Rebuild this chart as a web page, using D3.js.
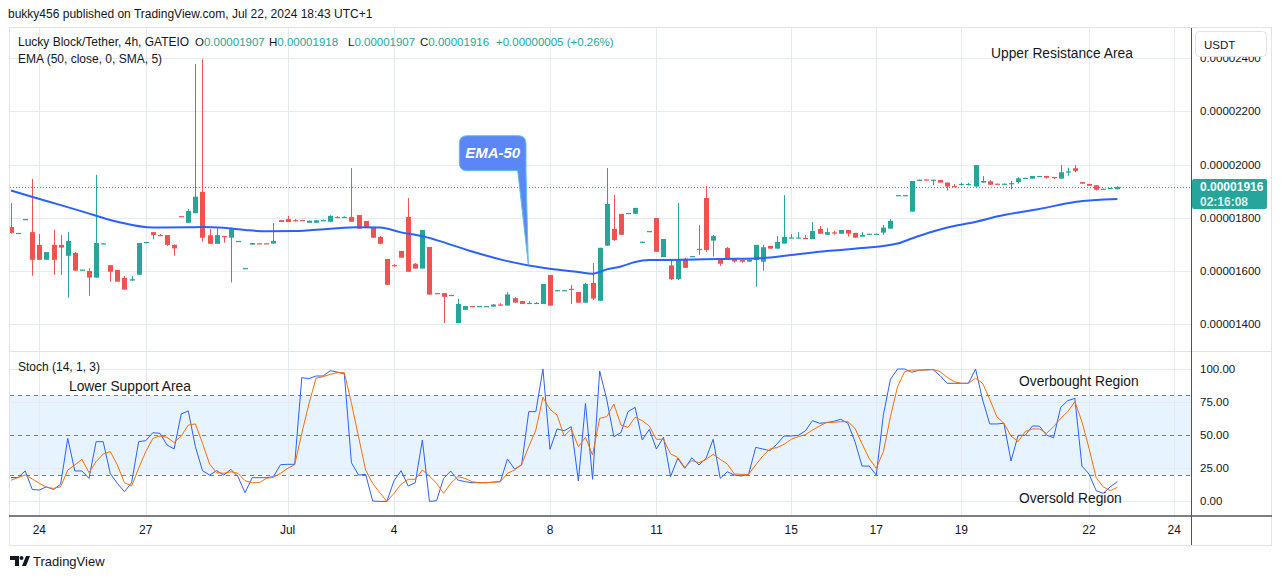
<!DOCTYPE html>
<html><head><meta charset="utf-8">
<script src="https://cdn.jsdelivr.net/npm/d3@7"></script>
<style>
html,body{margin:0;padding:0;background:#fff;}
svg{display:block;font-family:"Liberation Sans",Arial,sans-serif;}
</style></head><body>
<svg id="chart" width="1281" height="579"></svg>
<script>
// ---- DATA (prices in units of 1e-8 USDT) ----
const barOpen  = [1765,1741,1793,1746,1698,1642,1698,1698,1657,1668,1603,1600,1575,1702,1622,1604,1574,1564,1586,1707,1746,1735,1735,1698,1806,1781,1817,1897,1734,1702,1731,1725,1711,1609,1699,1704,1704,1703,1791,1795,1791,1791,1781,1781,1789,1785,1803,1800,1803,1810,1788,1765,1728,1645,1622,1675,1803,1627,1609,1690,1517,1517,1508,1404,1454,1468,1466,1466,1466,1474,1470,1498,1487,1476,1476,1476,1585,1526,1526,1533,1521,1481,1555,1488,1695,1758,1814,1816,1815,1708,1748,1799,1652,1621,1570,1646,1654,1683,1874,1714,1644,1686,1646,1642,1635,1641,1635,1694,1684,1703,1724,1724,1724,1720,1758,1736,1745,1740,1754,1743,1729,1738,1738,1744,1759,1883,1883,1823,1939,1944,1941,1942,1932,1919,1925,1925,1917,1932,1937,1928,1926,1928,1934,1947,1947,1955,1957,1953,1947,1972,1986,1934,1927,1922,1909,1908,1907];
const barHigh  = [1855,1743,1795,1946,1739,1671,1754,1735,1746,1671,1605,1611,1961,1704,1622,1604,1581,1581,1705,1709,1746,1739,1735,1700,1806,1833,2378,2395,1758,1760,1731,1763,1713,1611,1705,1704,1704,1780,1791,1807,1795,1791,1789,1791,1793,1809,1806,1805,1987,1810,1788,1765,1731,1645,1626,1675,1874,1630,1754,1690,1517,1517,1510,1495,1468,1468,1468,1468,1476,1479,1520,1502,1487,1487,1483,1551,1585,1528,1528,1547,1521,1555,1630,1687,1987,1885,1814,1818,1837,1710,1750,1799,1720,1641,1855,1650,1656,1773,1919,1735,1645,1690,1646,1642,1642,1698,1698,1694,1731,1885,1739,1746,1735,1784,1769,1761,1751,1754,1754,1743,1746,1740,1740,1773,1795,1885,1885,1938,1943,1944,1943,1942,1932,1927,1931,1931,1998,1957,1941,1928,1928,1938,1952,1950,1957,1957,1957,1953,1998,1988,1998,1934,1927,1922,1909,1912,1918];
const barLow   = [1740,1741,1793,1582,1642,1642,1585,1585,1500,1601,1603,1507,1575,1702,1560,1560,1530,1564,1586,1707,1719,1733,1694,1657,1804,1781,1817,1710,1702,1702,1706,1557,1711,1609,1699,1702,1702,1703,1784,1784,1786,1789,1781,1781,1787,1785,1800,1800,1785,1759,1764,1725,1700,1548,1616,1650,1597,1609,1609,1511,1515,1404,1508,1404,1454,1466,1466,1466,1466,1470,1470,1481,1476,1476,1476,1476,1470,1526,1526,1476,1481,1481,1491,1488,1695,1713,1736,1816,1815,1708,1748,1672,1652,1566,1566,1612,1654,1660,1672,1654,1619,1644,1632,1631,1635,1541,1601,1684,1684,1703,1722,1722,1722,1720,1740,1736,1736,1740,1729,1725,1729,1738,1738,1736,1759,1883,1883,1823,1939,1941,1922,1932,1902,1915,1921,1921,1917,1932,1924,1926,1926,1907,1928,1947,1947,1955,1947,1946,1947,1958,1971,1928,1920,1902,1905,1908,1907];
const barClose = [1743,1743,1795,1642,1642,1671,1642,1688,1713,1601,1605,1575,1705,1704,1597,1560,1530,1569,1705,1709,1735,1733,1698,1685,1804,1825,1879,1725,1702,1735,1729,1757,1713,1611,1705,1702,1702,1713,1784,1784,1789,1789,1789,1790,1791,1807,1800,1803,1785,1759,1764,1725,1702,1548,1620,1650,1597,1609,1754,1511,1515,1503,1510,1476,1468,1466,1468,1468,1474,1470,1512,1481,1476,1480,1480,1551,1470,1528,1528,1531,1481,1551,1496,1687,1852,1716,1736,1818,1837,1710,1750,1672,1720,1569,1644,1612,1656,1681,1679,1731,1627,1644,1636,1635,1642,1698,1689,1684,1709,1728,1726,1726,1722,1750,1740,1746,1743,1754,1740,1725,1735,1740,1740,1763,1788,1885,1885,1938,1943,1941,1943,1932,1917,1915,1927,1927,1998,1938,1924,1926,1928,1930,1948,1950,1957,1957,1950,1949,1971,1974,1976,1928,1920,1905,1905,1912,1916];

const emaIndex = [0,5,10,15,20,25,27,30,33,36,40,45,49,52,55,58,60,65,70,75,80,82,84,86,88,90,95,100,105,110,115,120,125,127,130,133,135,140,145,150,156];
const emaValue = [1902,1863,1824,1785,1763,1764,1765,1762,1754,1749,1750,1759,1764,1763,1745,1731,1716,1673,1637,1612,1596,1590,1606,1617,1634,1641,1642,1645,1647,1660,1675,1686,1703,1722,1748,1769,1779,1810,1833,1859,1870];

const stochK = [18,18,23,9,8.6,11,9,13,47.6,23,23,17.4,45.1,45.1,21,13.6,7.3,14.1,45.1,45.9,51.9,51.4,42.6,39.6,66,68.3,41.3,23.2,19.9,23.2,19.9,24.2,18.7,6.6,17.9,17.9,17.9,18.7,27.7,28,28,93.5,92.7,94.7,94.7,98.7,97.7,96.2,29.2,19.9,20.4,0.3,0,0,15.6,23.2,11.6,14.1,46.4,0,0.5,17.4,22.9,16.2,14.9,14.1,14.1,14.1,14.6,14.9,32,24.5,27.5,67.8,67.8,100,39.3,54.7,53.4,56.4,15.4,74,16.7,98.5,77,48.9,51.9,67.8,71,46.4,54.4,39.6,48.4,18.7,32.5,25,33,27.5,32.5,46.9,17.4,22.4,19.9,19.2,20.4,40.8,39.6,38.3,43.4,49.4,49.4,49.9,53.2,61,59,59.5,60.5,62,59,45.1,26.7,26.7,19.9,65.2,92.2,100,100,97.5,99,99.5,99.5,95,89.2,89.2,89.2,89.2,100,76.6,58.5,58.5,59,30.5,49.9,49.9,56.9,56.9,50.1,48.1,71,76.1,77.8,26.7,20.7,8.1,6.1,11.1,14.9];
const stochD = [16,18,19.9,17,13.6,10.6,9.8,11.1,23.7,27.5,31.8,21.7,30,35.8,37.6,27.5,14.1,11.6,25,37.6,47.6,49.4,48.4,44.4,49.4,57.7,58.5,43.9,28.2,21.7,21.2,22.4,21.2,15.6,14.1,14.1,17.4,18.2,21.2,25,27.7,51.4,73.6,93,94.2,96,97.2,97.2,74.1,48.9,23.7,13.6,6.6,0,6.1,12.9,16.7,16.7,23.7,19.2,13.6,6.1,13.6,18.7,17.4,14.9,14.1,14.1,14.4,14.9,21.2,23.7,28,41.3,53.9,78.6,69.5,65.2,49.4,54.7,41.3,48.4,35,62.7,64,73.6,57.7,55.9,63.5,61,56.9,46.9,46.9,35.8,33.3,25.7,30.8,29.2,31.8,35.5,31.8,28.2,20.7,20.4,20.4,27.5,34.3,39.6,40.6,43.1,46.9,48.9,50.4,53.9,56.9,59.7,59.7,60.2,60.2,55.2,43.4,32.5,25,37.6,64,86.7,98,99.2,99.2,99.2,99.7,98,93.7,90.4,89.2,89.2,93,89.2,77.1,64,59,49.4,45.1,52.7,54.7,54.7,51.4,56.4,62.7,67.8,75.3,60.2,40.1,18,11,8.1,10.6];

const priceTicks = [1400,1600,1800,2000,2200,2400];
const stochTicks = [0,25,50,75,100];
const stochBands = [20,50,80];
const timeTickIndex = [4,19,39,54,76,91,110,122,134,152,164];
const timeTickLabel = ["24","27","Jul","4","8","11","15","17","19","22","24"];
const lastPrice = 1916;
const lastChange = 5;
const lastChangePct = "+0.26%";

// ---- LAYOUT ----
const L=10, R=1191, mainTop=28, mainBot=351, stTop=352, stBot=516;
const UP="#26a69a", DOWN="#ef5350", GRID="#e6ebf1", TXT="#131722", AXIS="#50535e";

const svg=d3.select("#chart");
const x=d3.scaleLinear().domain([0,156]).range([11,1117.4]);
const y=d3.scaleLinear().domain([1400,2000]).range([324.2,164.5]);
const ys=d3.scaleLinear().domain([0,100]).range([501.4,369]);
const fmtP=v=>(v*1e-8).toFixed(8);

const defs=svg.append("defs");
defs.append("clipPath").attr("id","cm").append("rect").attr("x",L).attr("y",mainTop).attr("width",R-L).attr("height",mainBot-mainTop);
defs.append("clipPath").attr("id","cs").append("rect").attr("x",L).attr("y",stTop).attr("width",R-L).attr("height",stBot-stTop);

// header
svg.append("text").attr("x",8).attr("y",18).attr("font-size",12).attr("fill",TXT)
  .text("bukky456 published on TradingView.com, Jul 22, 2024 18:43 UTC+1");

// frame
svg.append("rect").attr("x",9.5).attr("y",27.5).attr("width",1262).attr("height",518).attr("fill","none").attr("stroke","#e0e3eb");

// grids main
const gm=svg.append("g").attr("clip-path","url(#cm)");
gm.selectAll("line.h").data(priceTicks).join("line")
  .attr("x1",L).attr("x2",R).attr("y1",d=>Math.round(y(d))+0.5).attr("y2",d=>Math.round(y(d))+0.5).attr("stroke",GRID);
gm.selectAll("line.v").data(timeTickIndex).join("line")
  .attr("x1",d=>Math.round(x(d))+0.5).attr("x2",d=>Math.round(x(d))+0.5).attr("y1",mainTop).attr("y2",mainBot).attr("stroke",GRID);

// stoch grid / band
const gs=svg.append("g").attr("clip-path","url(#cs)");
gs.append("rect").attr("x",L).attr("width",R-L).attr("y",ys(80)).attr("height",ys(20)-ys(80)).attr("fill","rgba(33,150,243,0.11)");
gs.selectAll("line.h").data(stochTicks).join("line")
  .attr("x1",L).attr("x2",R).attr("y1",d=>Math.round(ys(d))+0.5).attr("y2",d=>Math.round(ys(d))+0.5).attr("stroke",GRID);
gs.selectAll("line.v").data(timeTickIndex).join("line")
  .attr("x1",d=>Math.round(x(d))+0.5).attr("x2",d=>Math.round(x(d))+0.5).attr("y1",stTop).attr("y2",stBot).attr("stroke",GRID);
gs.selectAll("line.b").data(stochBands).join("line")
  .attr("x1",L).attr("x2",R).attr("y1",d=>Math.round(ys(d))+0.5).attr("y2",d=>Math.round(ys(d))+0.5)
  .attr("stroke","#787b86").attr("stroke-dasharray","4,4");

// candles
const bars=d3.range(barOpen.length).map(i=>({i,o:barOpen[i],h:barHigh[i],l:barLow[i],c:barClose[i]}));
const cg=gm.append("g");
cg.selectAll("line.w").data(bars).join("line")
  .attr("x1",d=>Math.round(x(d.i))+0.5).attr("x2",d=>Math.round(x(d.i))+0.5)
  .attr("y1",d=>y(d.h)).attr("y2",d=>y(d.l)).attr("stroke",d=>d.c>=d.o?UP:DOWN).attr("stroke-width",1);
cg.selectAll("rect").data(bars).join("rect")
  .attr("x",d=>Math.round(x(d.i))-2).attr("width",5)
  .attr("y",d=>y(Math.max(d.o,d.c)))
  .attr("height",d=>Math.max(1.2,Math.abs(y(d.o)-y(d.c))))
  .attr("fill",d=>d.c>=d.o?UP:DOWN);

// EMA
const emaPts=emaIndex.map((d,k)=>[d,emaValue[k]]);
gm.append("path").datum(emaPts).attr("fill","none").attr("stroke","#2962ff").attr("stroke-width",2)
  .attr("d",d3.line().x(d=>x(d[0])).y(d=>y(d[1])).curve(d3.curveMonotoneX));

// last price dotted
gm.append("line").attr("x1",L).attr("x2",R).attr("y1",Math.round(y(lastPrice))+0.5).attr("y2",Math.round(y(lastPrice))+0.5)
  .attr("stroke",UP).attr("stroke-dasharray","1,2");

// stoch lines
const sl=d3.line().x((d,i)=>x(i)).y(d=>ys(d));
gs.append("path").datum(stochK).attr("fill","none").attr("stroke","#2962ff").attr("stroke-width",1).attr("d",sl);
gs.append("path").datum(stochD).attr("fill","none").attr("stroke","#ff6d00").attr("stroke-width",1).attr("d",sl);

// separators / axes lines
svg.append("line").attr("x1",9).attr("x2",1272).attr("y1",351.5).attr("y2",351.5).attr("stroke","#e0e3eb");
svg.append("line").attr("x1",9).attr("x2",1272).attr("y1",516).attr("y2",516).attr("stroke",AXIS).attr("stroke-width",1.5);
svg.append("line").attr("x1",1191.5).attr("x2",1191.5).attr("y1",28).attr("y2",545).attr("stroke",AXIS).attr("stroke-width",1);

// price axis labels
const pa=svg.append("g").attr("font-size",11.5).attr("fill",TXT);
pa.selectAll("text").data(priceTicks).join("text").attr("x",1200).attr("y",d=>y(d)+4).text(fmtP);
const sa=svg.append("g").attr("font-size",11.5).attr("fill",TXT);
sa.selectAll("text").data(stochTicks).join("text").attr("x",1200).attr("y",d=>ys(d)+4).text(d=>d.toFixed(2));

// USDT box
svg.append("rect").attr("x",1195.5).attr("y",31.5).attr("width",71).attr("height",25).attr("rx",4).attr("fill","#fff").attr("stroke","#e0e3eb");
svg.append("text").attr("x",1204).attr("y",49).attr("font-size",11.5).attr("fill",TXT).text("USDT");

// last price label
svg.append("rect").attr("x",1192).attr("y",179).attr("width",75).attr("height",30).attr("rx",2).attr("fill",UP);
svg.append("text").attr("x",1200).attr("y",191).attr("font-size",12).attr("font-weight","bold").attr("fill","#fff").text(fmtP(lastPrice));
svg.append("text").attr("x",1200).attr("y",206).attr("font-size",12).attr("font-weight","bold").attr("fill","rgba(255,255,255,0.85)").text("02:16:08");

// time axis
const ta=svg.append("g").attr("font-size",12).attr("fill",TXT).attr("text-anchor","middle");
ta.selectAll("text").data(timeTickIndex).join("text").attr("x",d=>x(d)).attr("y",534).text((d,i)=>timeTickLabel[i]);

// legends
const lg=svg.append("g").attr("font-size",11.5);
lg.append("text").attr("x",18).attr("y",46).attr("font-size",12).attr("fill",TXT).text("Lucky Block/Tether, 4h, GATEIO");
const ohlc=[["O",195,barOpen[156]],["H",269,barHigh[156]],["L",348,barLow[156]],["C",420,barClose[156]]];
ohlc.forEach(([k,px,v])=>{
  const t=lg.append("text").attr("x",px).attr("y",46).attr("fill",TXT);
  t.append("tspan").text(k);
  t.append("tspan").attr("fill",UP).text(fmtP(v));
});
lg.append("text").attr("x",496).attr("y",46).attr("fill",UP).text("+"+fmtP(lastChange)+" ("+lastChangePct+")");
svg.append("text").attr("x",18).attr("y",63).attr("font-size",12).attr("fill",TXT).text("EMA (50, close, 0, SMA, 5)");
svg.append("text").attr("x",18).attr("y",371).attr("font-size",12).attr("fill",TXT).text("Stoch (14, 1, 3)");

// annotations
const an=svg.append("g").attr("font-size",13.8).attr("fill",TXT);
an.append("text").attr("x",991).attr("y",58).text("Upper Resistance Area");
an.append("text").attr("x",69).attr("y",391).text("Lower Support Area");
an.append("text").attr("x",1019).attr("y",386).text("Overbought Region");
an.append("text").attr("x",1019).attr("y",503).text("Oversold Region");

// EMA-50 callout
svg.append("path")
  .attr("d","M467,135.7 H518 Q526,135.7 526,143.7 V170.7 L528.3,264 L517.7,170.7 H467 Q459.3,170.7 459.3,162.7 V143.7 Q459.3,135.7 467,135.7 Z")
  .attr("fill","#5b86f5").attr("stroke","#5fc3e4").attr("stroke-width",1);
svg.append("text").attr("x",492.7).attr("y",158).attr("text-anchor","middle").attr("font-size",15)
  .attr("font-style","italic").attr("font-weight","bold").attr("fill","#fff").text("EMA-50");

// TradingView logo
const lo=svg.append("g").attr("fill",TXT);
lo.append("path").attr("d","M10,556 H19 V566 H15 V560 H10 Z");
lo.append("circle").attr("cx",21.5).attr("cy",558).attr("r",2);
lo.append("path").attr("d","M22,566 L26,556 H30 L26,566 Z");
svg.append("text").attr("x",33).attr("y",566).attr("font-size",13).attr("fill",TXT).text("TradingView");
</script></body></html>
